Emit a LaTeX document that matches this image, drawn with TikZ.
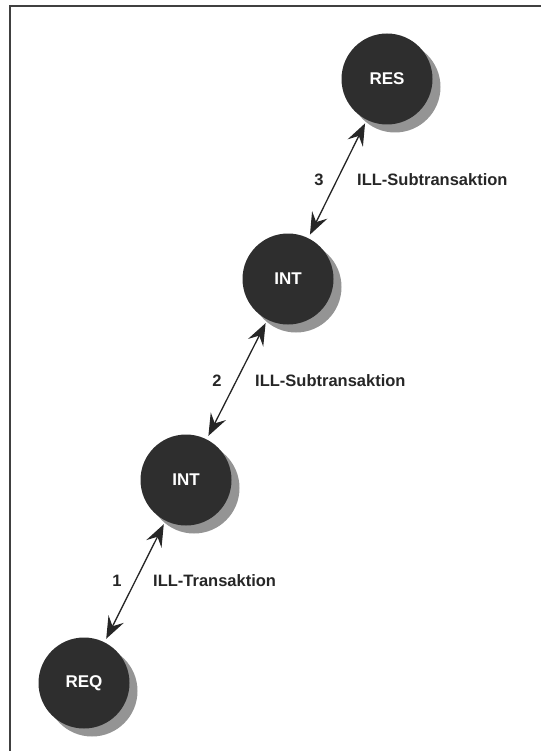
\documentclass[tikz,border=0pt]{standalone}
\usepackage{fontspec}
\setmainfont{Liberation Sans}
\usetikzlibrary{arrows.meta,shadows}

\tikzset{
  station/.style={circle, fill=black!82, minimum size=91pt, inner sep=0pt, outer sep=4pt,
    text=white, font=\fontsize{17}{18}\selectfont\bfseries,
    drop shadow={shadow xshift=8pt, shadow yshift=-8pt, fill=black!42, opacity=1}},
  tip/.tip={Stealth[length=22pt,width=17pt,inset=8pt]},
  link/.style={tip-tip, line width=1.3pt, draw=black!85, fill=black!85},
  lbl/.style={font=\fontsize{16.5}{18}\selectfont\bfseries, text=black!85, inner sep=0pt}
}

\begin{document}
\begin{tikzpicture}[x=1pt, y=-1pt]
        \useasboundingbox (0,0) rectangle (541,751);
        % frame
        \draw[line width=1.8pt, black!75] (10,751) -- (10,6) -- (541,6);
        % stations
        \node[station] (res)  at (387,79)  {RES};
        \node[station] (int1) at (288,279) {INT};
        \node[station] (int2) at (186,480) {INT};
        \node[station] (req)  at (84,683)  {REQ};
        % links
        \draw[link] (req) -- (int2);
        \draw[link] (int2) -- (int1);
        \draw[link] (int1) -- (res);
        % labels
        \node[lbl] (n1) at (117,581) {1};
        \node[lbl, anchor=west] (t1) at (153,581) {ILL-Transaktion};
        \node[lbl] (n2) at (217,381) {2};
        \node[lbl, anchor=west] (t2) at (255,381) {ILL-Subtransaktion};
        \node[lbl] (n3) at (319,180) {3};
        \node[lbl, anchor=west] (t3) at (357,180) {ILL-Subtransaktion};
      \end{tikzpicture}
\end{document}
